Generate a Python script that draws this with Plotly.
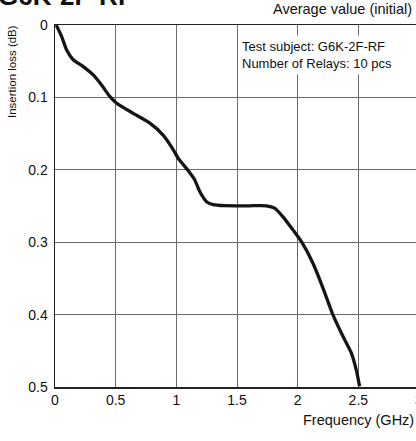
import plotly.graph_objects as go

freq_ghz = [0.01, 0.055, 0.096, 0.15, 0.233, 0.315, 0.384, 0.453, 0.508, 0.644, 0.782,
            0.891, 0.974, 1.015, 1.097, 1.152, 1.193, 1.249, 1.303, 1.40, 1.495, 1.60,
            1.742, 1.81, 1.879, 1.961, 2.03, 2.126, 2.208, 2.29, 2.373, 2.442, 2.488, 2.51]
loss_db = [0.0, 0.016, 0.0345, 0.048, 0.0575, 0.069, 0.083, 0.099, 0.108, 0.122, 0.1355,
           0.152, 0.172, 0.184, 0.201, 0.214, 0.230, 0.244, 0.248, 0.2495, 0.2497, 0.2497,
           0.2497, 0.253, 0.265, 0.283, 0.299, 0.329, 0.363, 0.400, 0.430, 0.453, 0.480, 0.499]

x_ticks = [0, 0.5, 1, 1.5, 2, 2.5, 3]
x_tick_labels = ["0", "0.5", "1", "1.5", "2", "2.5", "3"]
y_ticks = [0, 0.1, 0.2, 0.3, 0.4, 0.5]
y_tick_labels = ["0", "0.1", "0.2", "0.3", "0.4", "0.5"]

# figure is a bit wider than the window: the chart is cut off at the right, as in the reference
W, H = 424, 441
ML, MR, MT, MB = 55, 4.5, 25, 54
plot_w = W - ML - MR
plot_h = H - MT - MB

FONT = "Liberation Sans, Arial, Helvetica, sans-serif"

def px_x(p):
    return (p - ML) / plot_w

def px_y(p):
    return (H - MB - p) / plot_h

fig = go.Figure()
fig.add_trace(go.Scatter(
    x=freq_ghz, y=loss_db, mode="lines",
    line=dict(color="#151515", width=3.3, shape="spline", smoothing=0.6),
    hoverinfo="skip", showlegend=False,
))

fig.update_layout(
    width=W, height=H,
    margin=dict(l=ML, r=MR, t=MT, b=MB, pad=0),
    paper_bgcolor="white", plot_bgcolor="white",
    font=dict(family=FONT, size=14, color="#111"),
    xaxis=dict(
        range=[0, 3], tickvals=x_ticks, ticktext=x_tick_labels,
        showgrid=True, gridcolor="#6a6a6a", gridwidth=1,
        showline=True, linecolor="#222", linewidth=1.5, mirror=True,
        ticks="", ticklabelstandoff=0, zeroline=False,
        tickfont=dict(size=14, family=FONT), automargin=False,
    ),
    yaxis=dict(
        range=[0.5, 0], tickvals=y_ticks, ticktext=y_tick_labels,
        showgrid=True, gridcolor="#6a6a6a", gridwidth=1,
        showline=True, linecolor="#222", linewidth=1.5, mirror=False,
        ticks="", ticklabelstandoff=3, zeroline=False,
        tickfont=dict(size=14, family=FONT), automargin=False,
    ),
)

ann = []
ann.append(dict(x=px_x(-4), y=px_y(-4), xref="paper", yref="paper",
                text="<b>G6K-2F-RF</b>", showarrow=False, xanchor="left", yanchor="middle",
                font=dict(size=26, family=FONT, color="#111")))
ann.append(dict(x=px_x(414), y=px_y(9), xref="paper", yref="paper",
                text="Average value (initial)", showarrow=False, xanchor="right", yanchor="middle",
                font=dict(size=14.5, family=FONT, color="#111")))
ann.append(dict(x=px_x(12), y=px_y(72), xref="paper", yref="paper",
                text="Insertion loss (dB)", showarrow=False, textangle=-90,
                xanchor="center", yanchor="middle",
                font=dict(size=11.5, family=FONT, color="#111")))
ann.append(dict(x=px_x(301), y=px_y(420), xref="paper", yref="paper",
                text="Frequency (GHz)", showarrow=False, xanchor="left", yanchor="middle",
                font=dict(size=14.5, family=FONT, color="#111")))
ann.append(dict(x=px_x(238), y=px_y(35), xref="paper", yref="paper",
                text="Test subject: G6K-2F-RF<br>Number of Relays: 10 pcs",
                showarrow=False, xanchor="left", yanchor="top", align="left",
                bgcolor="white", borderpad=3,
                font=dict(size=13, family=FONT, color="#111")))
fig.update_layout(annotations=ann)

fig.write_html(
    "out.html",
    config={"displayModeBar": False, "staticPlot": True},
    post_script="document.body.style.margin='0';document.body.style.overflow='hidden';",
)
